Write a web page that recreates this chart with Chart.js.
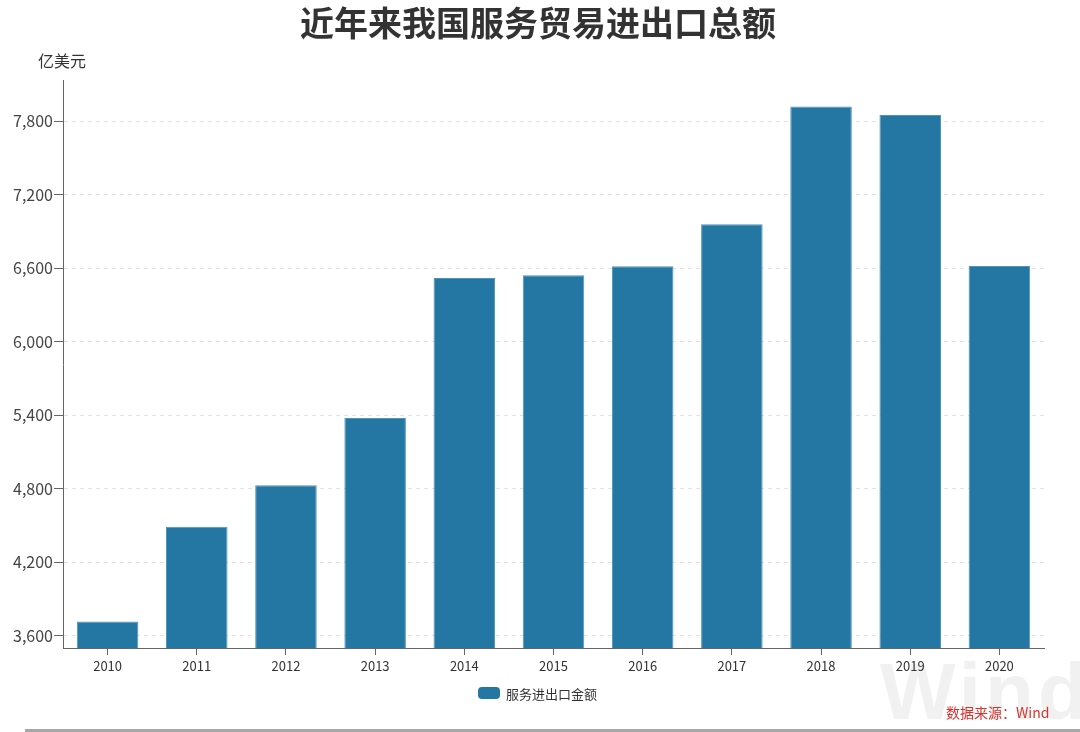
<!DOCTYPE html>
<html>
<head>
<meta charset="utf-8">
<script src="https://cdn.jsdelivr.net/npm/chart.js@4.4.0/dist/chart.umd.min.js"></script>
<style>
  html, body { margin: 0; padding: 0; background: #fff; }
  #wrap { position: relative; width: 1080px; height: 732px; overflow: hidden; font-family: "Noto Sans CJK SC", "Noto Sans", sans-serif; }
  #wm { position: absolute; left: 880px; top: 652px; font-family: "Liberation Sans", Arial, sans-serif; font-weight: bold; font-size: 80px; line-height: 80px; color: #f1f1f1; letter-spacing: 4px; z-index: 0; }
  #cv { position: absolute; left: 0; top: 0; z-index: 1; }
  #title { position: absolute; left: 0; width: 1076px; top: 0px; text-align: center; font-size: 34px; line-height: 44px; font-weight: bold; color: #333; z-index: 2; }
  #unit { position: absolute; left: 38px; top: 48px; font-size: 16px; color: #333; z-index: 2; }
  #legend { position: absolute; left: 478px; top: 683px; height: 20px; display: flex; align-items: center; font-size: 13px; color: #333; z-index: 2; }
  #legend .box { width: 22px; height: 12px; border-radius: 4px; background: #2477a2; margin-right: 6px; }
  #src { position: absolute; left: 946px; top: 702px; font-size: 14px; color: #d8322e; z-index: 2; }
  #bline { position: absolute; left: 25px; right: 0; top: 729px; height: 3px; background: #a8a8a8; z-index: 2; }
</style>
</head>
<body>
<div id="wrap">
  <div id="wm">Wind</div>
  <canvas id="cv" width="1080" height="732"></canvas>
  <div id="title"></div>
  <div id="unit">亿美元</div>
  <div id="legend"><span class="box"></span><span id="legendText"></span></div>
  <div id="src">数据来源：Wind</div>
  <div id="bline"></div>
</div>
<script>
const categories = ["2010","2011","2012","2013","2014","2015","2016","2017","2018","2019","2020"];
const tradeValues = [3717, 4489, 4829, 5376, 6520, 6542, 6616, 6957, 7919, 7850, 6617];
const yTicks = [3600, 4200, 4800, 5400, 6000, 6600, 7200, 7800];
const seriesName = "服务进出口金额";
const titleText = "近年来我国服务贸易进出口总额";

document.getElementById('title').textContent = titleText;
document.getElementById('legendText').textContent = seriesName;

const cjk = '"Noto Sans CJK SC", "Noto Sans", sans-serif';

new Chart(document.getElementById('cv'), {
  type: 'bar',
  data: {
    labels: categories,
    datasets: [{
      label: seriesName,
      data: tradeValues,
      backgroundColor: '#2477a2',
      borderColor: '#4f93bb',
      borderWidth: 1,
      barPercentage: 0.69,
      categoryPercentage: 1.0
    }]
  },
  options: {
    responsive: false,
    animation: false,
    devicePixelRatio: 1,
    layout: { padding: { left: 0, right: 36, top: 80, bottom: 54 } },
    plugins: {
      title: { display: false },
      legend: { display: false },
      tooltip: { enabled: false }
    },
    scales: {
      x: {
        afterFit: (scale) => { scale.height = 30; },
        grid: { display: true, drawOnChartArea: false, drawTicks: true, offset: false, tickLength: 7, tickColor: '#666', color: '#666' },
        border: { display: true, color: '#666', width: 1 },
        ticks: { color: '#333', font: { family: cjk, size: 13 }, padding: 3 }
      },
      y: {
        min: 3500,
        max: 8135,
        afterBuildTicks: (scale) => { scale.ticks = yTicks.map(v => ({ value: v })); },
        afterFit: (scale) => { scale.width = 63; },
        grid: { color: '#e2e2e2', tickColor: '#666', tickLength: 9, tickBorderDash: [] },
        border: { display: true, color: '#666', width: 1, dash: [4, 4] },
        ticks: {
          color: '#444',
          font: { family: cjk, size: 16 },
          padding: 1,
          callback: (v) => Number(v).toLocaleString('en-US')
        }
      }
    }
  }
});
</script>
</body>
</html>
